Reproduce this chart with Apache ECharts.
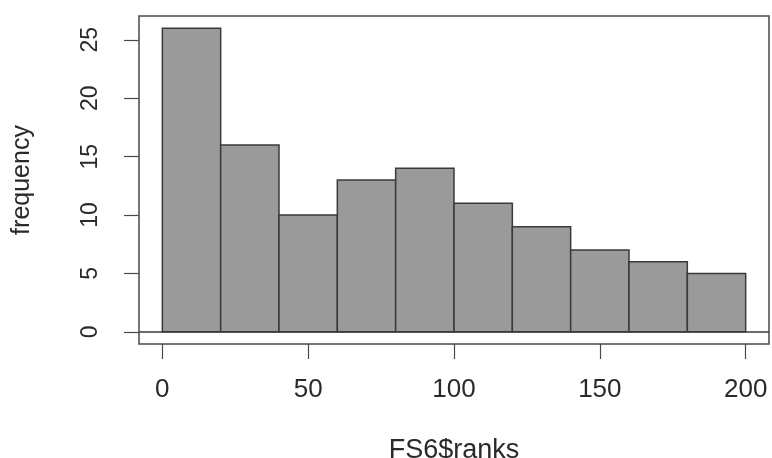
<!DOCTYPE html>
<html>
<head>
<meta charset="utf-8">
<title>Histogram of FS6$ranks</title>
<script src="https://cdn.jsdelivr.net/npm/echarts@6/dist/echarts.min.js"></script>
<style>
  html, body { margin: 0; padding: 0; background: #ffffff; }
  #chart { width: 772px; height: 458px; }
</style>
</head>
<body>
<div id="chart"></div>
<script>
// Histogram bins (width 20) and their counts
const binEdges = [0, 20, 40, 60, 80, 100, 120, 140, 160, 180, 200];
const counts = [26, 16, 10, 13, 14, 11, 9, 7, 6, 5];

// Tick labels on each axis
const xTicks = [0, 50, 100, 150, 200];
const yTicks = [0, 5, 10, 15, 20, 25];

const xTitle = 'FS6$ranks';
const yTitle = 'frequency';

// Data rows: [bin start, bin end, count]
const rows = counts.map((c, i) => [binEdges[i], binEdges[i + 1], c]);

// Plot range padded by 4% on each side, as in base R graphics
const xLo = binEdges[0], xHi = binEdges[binEdges.length - 1];
const yHi = Math.max(...counts);
const xPad = (xHi - xLo) * 0.04;
const yPad = yHi * 0.04;

const textColor = '#2a2a2a';
const font = 'Liberation Sans, Arial, Helvetica, sans-serif';

const chart = echarts.init(document.getElementById('chart'), null, { renderer: 'canvas' });

chart.setOption({
  animation: false,
  backgroundColor: '#ffffff',
  grid: {
    left: 139, right: 3, top: 16, bottom: 114,
    outerBoundsMode: 'none',
    containLabel: false,
    show: true,
    borderColor: '#4a4a4a',
    borderWidth: 1.5,
    backgroundColor: 'transparent'
  },
  xAxis: {
    type: 'value',
    min: xLo - xPad,
    max: xHi + xPad,
    name: xTitle,
    nameLocation: 'middle',
    nameGap: 93,
    nameTextStyle: { color: textColor, fontSize: 27, fontFamily: font },
    axisLine: { show: false, onZero: false },
    splitLine: { show: false },
    axisTick: {
      show: true, inside: false, length: 15,
      customValues: xTicks,
      lineStyle: { color: '#4a4a4a', width: 1.2 }
    },
    axisLabel: {
      customValues: xTicks,
      margin: 33,
      color: textColor,
      fontSize: 26,
      fontFamily: font
    }
  },
  yAxis: {
    type: 'value',
    min: -yPad,
    max: yHi + yPad,
    name: yTitle,
    nameLocation: 'middle',
    nameGap: 104,
    nameRotate: 90,
    nameTextStyle: { color: textColor, fontSize: 25, fontFamily: font },
    axisLine: { show: false, onZero: false },
    splitLine: { show: false },
    axisTick: {
      show: true, inside: false, length: 15,
      customValues: yTicks,
      lineStyle: { color: '#4a4a4a', width: 1.2 }
    },
    axisLabel: {
      customValues: yTicks,
      rotate: 90,
      margin: 37,
      color: textColor,
      fontSize: 23,
      fontFamily: font
    }
  },
  series: [{
    type: 'custom',
    data: rows,
    encode: { x: [0, 1], y: 2 },
    renderItem: function (params, api) {
      const topLeft = api.coord([api.value(0), api.value(2)]);
      const bottomRight = api.coord([api.value(1), 0]);
      return {
        type: 'rect',
        shape: {
          x: topLeft[0],
          y: topLeft[1],
          width: bottomRight[0] - topLeft[0],
          height: bottomRight[1] - topLeft[1]
        },
        style: { fill: '#9a9a9a', stroke: '#3a3a3a', lineWidth: 1.5 }
      };
    },
    markLine: {
      silent: true,
      symbol: 'none',
      label: { show: false },
      lineStyle: { color: '#3a3a3a', width: 1.5, type: 'solid' },
      data: [{ yAxis: 0 }]
    }
  }]
});
</script>
</body>
</html>
